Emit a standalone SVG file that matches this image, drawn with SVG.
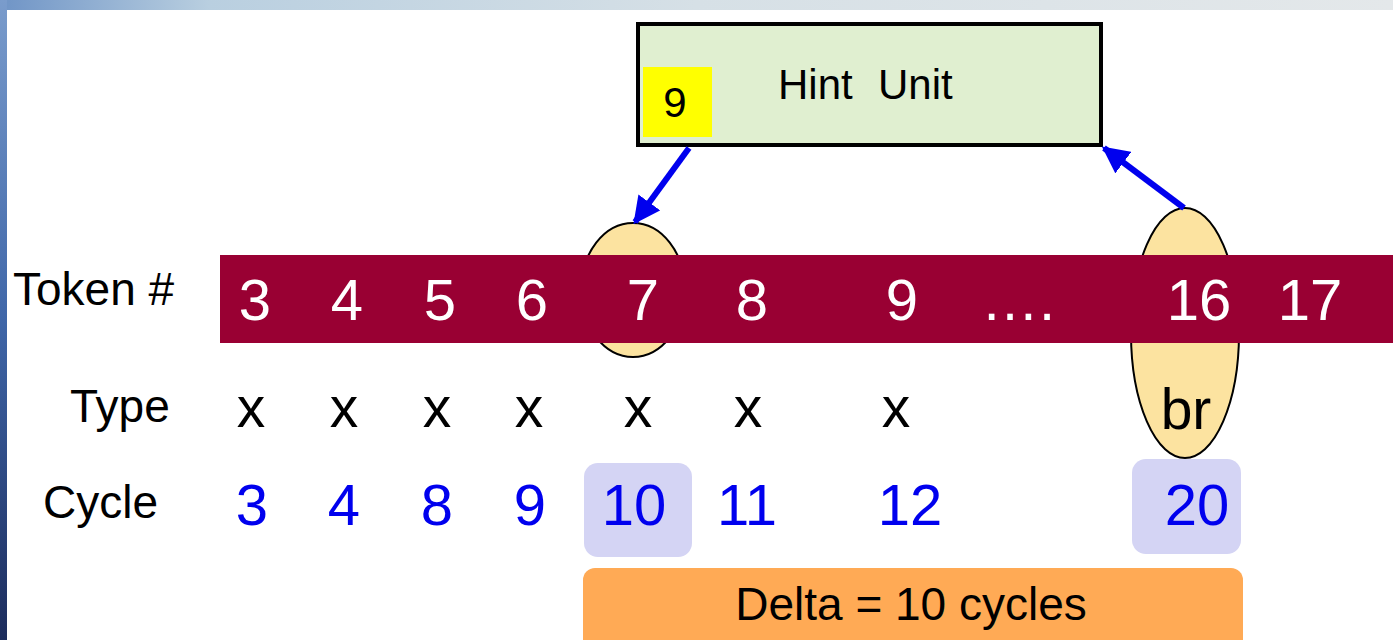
<svg xmlns="http://www.w3.org/2000/svg" width="1393" height="640" viewBox="0 0 1393 640">
  <defs>
    <linearGradient id="sideBar" x1="0" y1="0" x2="0" y2="1">
      <stop offset="0" stop-color="#7a9ccc"/>
      <stop offset="0.5" stop-color="#3f66a8"/>
      <stop offset="1" stop-color="#1c2c5c"/>
    </linearGradient>
    <linearGradient id="topBand" x1="0" y1="0" x2="1" y2="0">
      <stop offset="0" stop-color="#6f94c6"/>
      <stop offset="0.15" stop-color="#b9cfe0"/>
      <stop offset="0.5" stop-color="#d6e0e6"/>
      <stop offset="1" stop-color="#e4e8ea"/>
    </linearGradient>
    <marker id="arrow" viewBox="0 0 10 10" refX="9" refY="5" markerWidth="4.5" markerHeight="4.5" orient="auto" markerUnits="strokeWidth">
      <path d="M0,0 L10,5 L0,10 Z" fill="#0000ee"/>
    </marker>
  </defs>
  <style>
    text { font-family: "Liberation Sans", Arial, sans-serif; }
    .lbl { font-size: 46px; fill: #000; }
    .tok { font-size: 58px; fill: #fff; text-anchor: middle; }
    .typ { font-size: 57px; fill: #000; text-anchor: middle; }
    .cyc { font-size: 58px; fill: #0000ee; text-anchor: middle; }
    .hint { font-size: 42px; fill: #000; }
    .oval { fill: #fce3a0; stroke: #000; stroke-width: 2; }
    .hl { fill: #d4d4f4; }
    .conn { stroke: #0000ee; stroke-width: 6; fill: none; marker-end: url(#arrow); }
  </style>

  <!-- page background -->
  <rect x="0" y="0" width="1393" height="640" fill="#ffffff"/>
  <rect x="0" y="0" width="1393" height="10" fill="url(#topBand)"/>
  <rect x="0" y="0" width="7" height="640" fill="url(#sideBar)"/>

  <!-- ovals marking tokens 7 and 16 (behind the token bar) -->
  <g id="oval-token7"><ellipse class="oval" cx="633" cy="290" rx="52" ry="67"/></g>
  <g id="oval-token16"><ellipse class="oval" cx="1185" cy="333" rx="54" ry="125"/></g>

  <!-- token bar -->
  <g id="token-bar">
    <rect x="220" y="255" width="1173" height="88" fill="#990033"/>
    <text class="tok" x="255" y="320">3</text>
    <text class="tok" x="347" y="320">4</text>
    <text class="tok" x="440" y="320">5</text>
    <text class="tok" x="532" y="320">6</text>
    <text class="tok" x="643" y="320">7</text>
    <text class="tok" x="752" y="320">8</text>
    <text class="tok" x="902" y="320">9</text>
    <text class="tok" x="1018" y="320">….</text>
    <text class="tok" x="1199" y="320">16</text>
    <text class="tok" x="1310" y="320">17</text>
  </g>

  <!-- row labels -->
  <g id="row-labels">
    <text class="lbl" x="13" y="305">Token #</text>
    <text class="lbl" x="70" y="422">Type</text>
    <text class="lbl" x="43" y="518">Cycle</text>
  </g>

  <!-- type row -->
  <g id="type-row">
    <text class="typ" x="251" y="427">x</text>
    <text class="typ" x="344" y="427">x</text>
    <text class="typ" x="437" y="427">x</text>
    <text class="typ" x="529" y="427">x</text>
    <text class="typ" x="638" y="427">x</text>
    <text class="typ" x="748" y="427">x</text>
    <text class="typ" x="896" y="427">x</text>
    <text class="typ" x="1186" y="429">br</text>
  </g>

  <!-- cycle row -->
  <g id="cycle-row">
    <rect class="hl" x="584" y="463" width="108" height="94" rx="14"/>
    <rect class="hl" x="1132" y="459" width="109" height="95" rx="14"/>
    <text class="cyc" x="252" y="525">3</text>
    <text class="cyc" x="344" y="525">4</text>
    <text class="cyc" x="437" y="525">8</text>
    <text class="cyc" x="530" y="525">9</text>
    <text class="cyc" x="634" y="525">10</text>
    <text class="cyc" x="747" y="525">11</text>
    <text class="cyc" x="910" y="525">12</text>
    <text class="cyc" x="1197" y="525">20</text>
  </g>

  <!-- delta bar -->
  <g id="delta">
    <rect x="583" y="568" width="660" height="90" rx="12" fill="#ffaa55"/>
    <text class="lbl" x="911" y="620" text-anchor="middle">Delta = 10 cycles</text>
  </g>

  <!-- hint unit -->
  <g id="hint-unit">
    <rect x="638" y="24" width="463" height="121" fill="#e0efd0" stroke="#000" stroke-width="4"/>
    <rect x="643" y="67" width="69" height="70" fill="#ffff00"/>
    <text class="hint" x="675" y="117" text-anchor="middle">9</text>
    <text class="hint" x="778" y="99">Hint</text>
    <text class="hint" x="878" y="99">Unit</text>
  </g>

  <!-- connectors -->
  <g id="connectors">
    <line class="conn" x1="689" y1="148" x2="635" y2="222"/>
    <line class="conn" x1="1184" y1="208" x2="1104" y2="148"/>
  </g>
</svg>
